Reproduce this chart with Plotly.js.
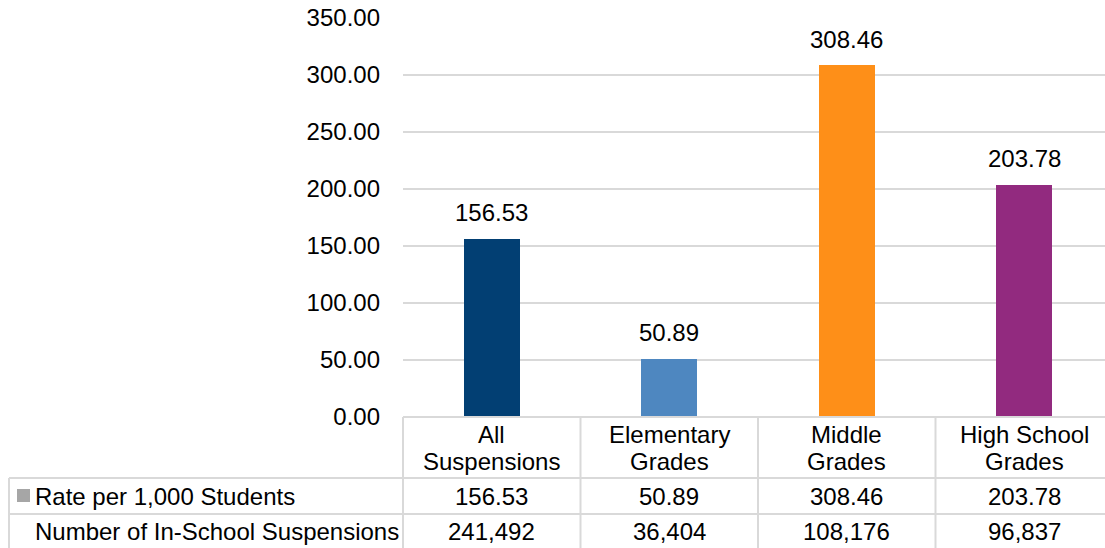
<!DOCTYPE html>
<html><head><meta charset="utf-8">
<script src="https://cdn.plot.ly/plotly-3.0.1.min.js"></script>
<style>html,body{margin:0;padding:0;overflow:hidden;background:#fff}#chart{width:1105px;height:548px}</style>
</head><body><div id="chart"></div>
<script>
const categories = ["All\nSuspensions", "Elementary\nGrades", "Middle\nGrades", "High School\nGrades"];
const rateValues = [156.53, 50.89, 308.46, 203.78];
const suspensionCounts = [241492, 36404, 108176, 96837];
const rowLabels = ["Rate per 1,000 Students", "Number of In-School Suspensions"];
const barColors = ["#023f73", "#4e87c0", "#fe8f18", "#922a7f"];
const yTicks = [0, 50, 100, 150, 200, 250, 300, 350];

const W = 1105, H = 548;
const mL = 403, mR = 0, mT = 18, mB = 131;
const plotW = W - mL - mR, plotH = H - mT - mB;
const FONT = "Liberation Sans, Arial, sans-serif";
const FS = 24;
const px2py = p => (H - mB - p) / plotH;   // pixel y -> paper y
const px2px = p => (p - mL) / plotW;       // pixel x -> paper x
const tf = {family: FONT, size: FS, color: "#000"};

const idx = categories.map((_, i) => i);
const trace = {
  type: "bar", x: idx, y: rateValues, width: 0.315,
  marker: {color: barColors}, hoverinfo: "skip"
};

const annotations = [];
// data labels
rateValues.forEach((v, i) => annotations.push({
  x: i, y: v, xref: "x", yref: "y", text: v.toFixed(2), showarrow: false,
  yanchor: "middle", yshift: 26, font: tf
}));
// table: category row (two lines each)
const catLineY = [435, 461];
categories.forEach((c, i) => c.split("\n").forEach((line, k) => annotations.push({
  x: i, y: px2py(catLineY[k]), xref: "x", yref: "paper", text: line, showarrow: false,
  yanchor: "middle", font: tf
})));
rateValues.forEach((v, i) => annotations.push({
  x: i, y: px2py(496), xref: "x", yref: "paper", text: v.toFixed(2), showarrow: false,
  yanchor: "middle", font: tf
}));
suspensionCounts.forEach((v, i) => annotations.push({
  x: i, y: px2py(531), xref: "x", yref: "paper", text: v.toLocaleString("en-US"), showarrow: false,
  yanchor: "middle", font: tf
}));
const rowY = [496, 531];
rowLabels.forEach((t, r) => annotations.push({
  x: px2px(33), y: px2py(rowY[r]), xref: "paper", yref: "paper", text: t, showarrow: false,
  xanchor: "left", yanchor: "middle", font: tf
}));

const lc = "#d9d9d9";
const shapes = [];
const hline = (x0, x1, py) => shapes.push({type: "line", xref: "paper", yref: "paper",
  x0: px2px(x0), x1: px2px(x1), y0: px2py(py), y1: px2py(py), line: {color: lc, width: 2}});
const vline = (x, y0, y1) => shapes.push({type: "line", xref: "paper", yref: "paper",
  x0: px2px(x), x1: px2px(x), y0: px2py(y0), y1: px2py(y1), line: {color: lc, width: 2}});
hline(403, 1120, 417);
hline(9, 1120, 478);
hline(9, 1120, 514);
vline(9, 478, 560);
[403, 580.5, 758, 935.5].forEach(x => vline(x, 417, 560));
// legend key
shapes.push({type: "rect", xref: "paper", yref: "paper",
  x0: px2px(17), x1: px2px(30), y0: px2py(502), y1: px2py(489),
  fillcolor: "#a6a6a6", line: {width: 0}});

const layout = {
  width: W, height: H,
  margin: {l: mL, r: mR, t: mT, b: mB, pad: 0},
  paper_bgcolor: "#fff", plot_bgcolor: "#fff",
  showlegend: false,
  font: tf,
  xaxis: {range: [-0.5, 3.456], showticklabels: false, showgrid: false, zeroline: false, showline: false, fixedrange: true},
  yaxis: {range: [0, 350], tickvals: yTicks, ticktext: yTicks.map(v => v.toFixed(2)),
    showgrid: true, gridcolor: lc, gridwidth: 2, zeroline: false, showline: false,
    ticks: "", ticklabelstandoff: 22, tickfont: tf},
  annotations, shapes, bargap: 0
};
Plotly.newPlot("chart", [trace], layout, {staticPlot: true, displayModeBar: false});
</script></body></html>
